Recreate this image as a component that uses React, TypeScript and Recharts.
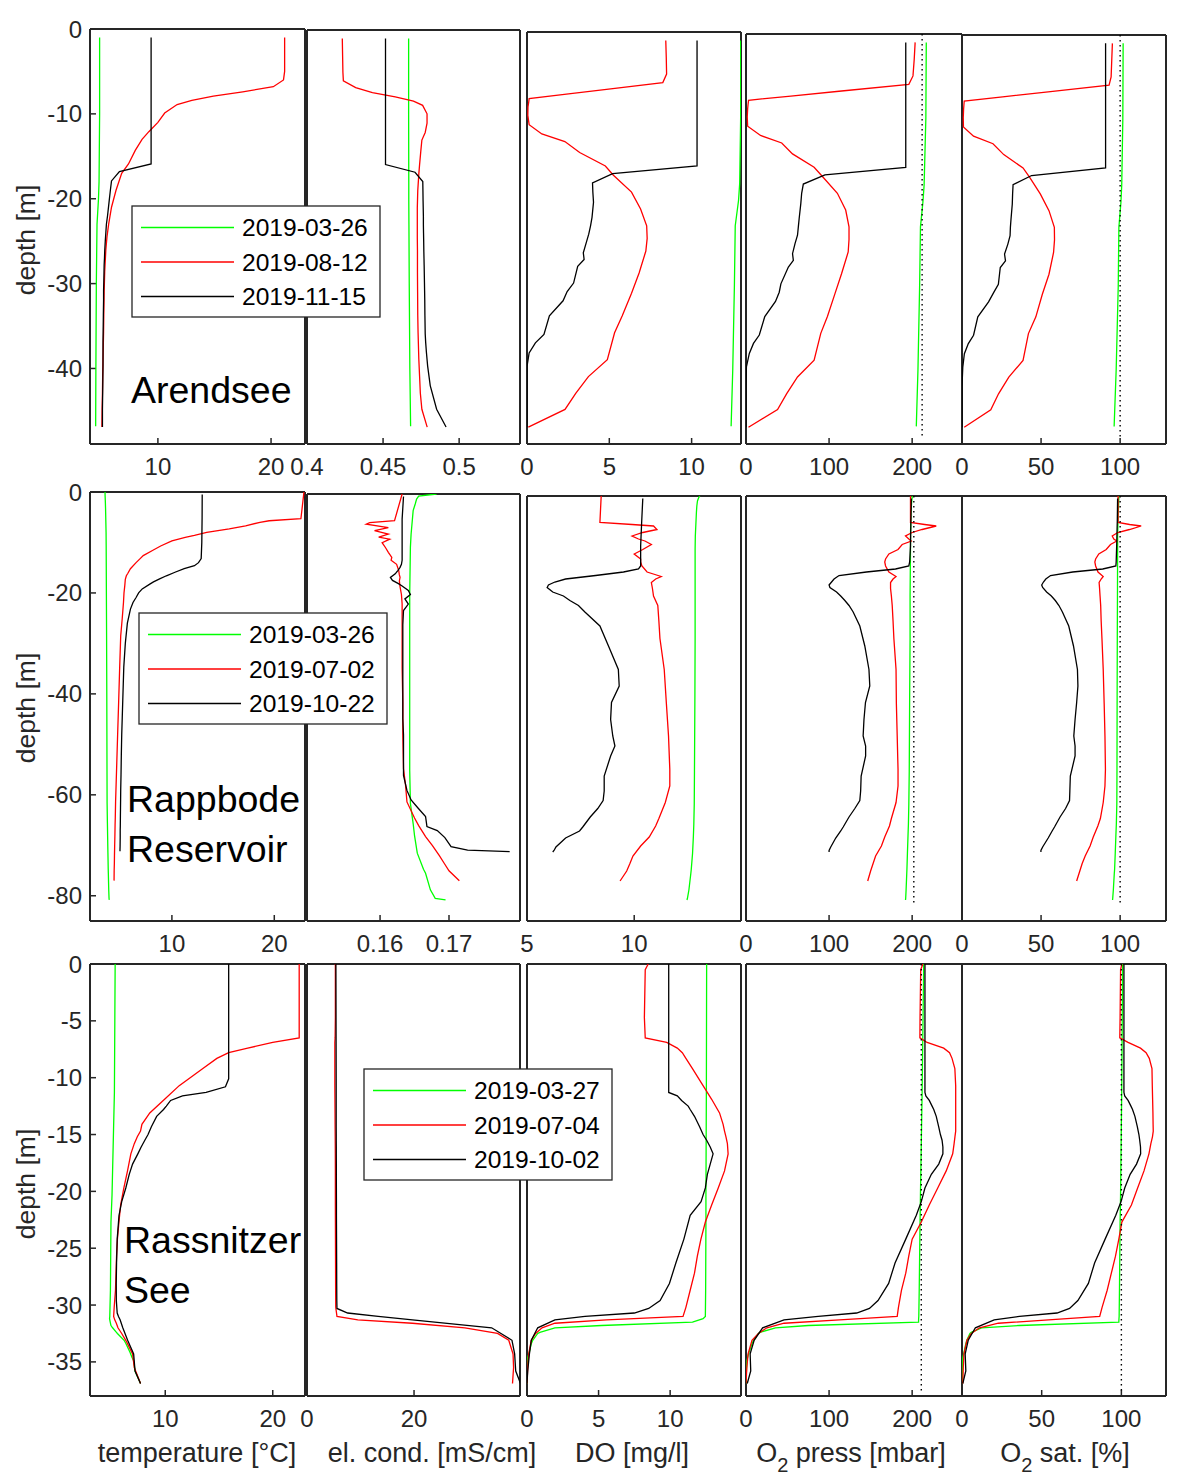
import React from 'react';
import { ScatterChart, Scatter, XAxis, YAxis } from 'recharts';

const FONT = '"Liberation Sans", Arial, Helvetica, sans-serif';
const INK = '#262626';
const DATE_COLORS = ['#00ff00', '#ff0000', '#000000'];

// ---------- Arendsee ----------
const arendseeDates = ['2019-03-26', '2019-08-12', '2019-11-15'];

const aGreenDepth = [-1, -10, -18, -20, -23, -30, -40, -46.8];
const aGreenTemp = [4.85, 4.85, 4.8, 4.75, 4.62, 4.56, 4.52, 4.5];
const aGreenCond = [0.4668, 0.4668, 0.4669, 0.4669, 0.467, 0.4672, 0.4676, 0.4681];
const aGreenDO = [12.98, 12.98, 12.92, 12.85, 12.65, 12.6, 12.5, 12.4];
const aGreenPress = [217, 216.5, 214.4, 213, 210, 209, 207, 205];
const aGreenSat = [101.9, 101.7, 101, 100.5, 99.2, 98.8, 97.5, 96.2];

const aRedDepth = [-1, -3, -5, -6, -6.8, -7.4, -7.9, -8.4, -8.9, -9.9, -11, -12.1, -13, -14.3, -15.9, -17, -19, -21, -23, -24.5, -26, -28.6, -31, -33.7, -35.7, -38.9, -40.9, -42.9, -44.8, -46.9];
const aRedTemp = [21.2, 21.2, 21.2, 21.1, 20.2, 17.5, 14.9, 13.0, 11.7, 10.6, 10.0, 9.2, 8.6, 8.0, 7.4, 6.8, 6.3, 5.9, 5.65, 5.5, 5.4, 5.3, 5.25, 5.22, 5.2, 5.15, 5.12, 5.1, 5.07, 5.05];
const aRedCond = [0.4232, 0.4234, 0.4236, 0.4239, 0.432, 0.443, 0.458, 0.47, 0.476, 0.4789, 0.4789, 0.4777, 0.4755, 0.4748, 0.474, 0.4735, 0.4728, 0.4725, 0.4725, 0.4725, 0.4726, 0.4726, 0.4727, 0.4728, 0.473, 0.4735, 0.474, 0.4745, 0.4755, 0.479];
const aRedDO = [8.43, 8.46, 8.48, 8.25, 4.83, 2.27, 0.13, 0.1, 0.06, 0.05, 0.13, 0.9, 2.3, 3.2, 4.76, 5.25, 6.35, 6.9, 7.27, 7.3, 7.22, 6.81, 6.35, 5.78, 5.32, 4.88, 3.73, 2.96, 2.31, 0.08];
const aRedPress = [203.6, 202.5, 201, 196, 115, 54, 3.1, 2.5, 2, 1.5, 2, 17.5, 43, 56, 82, 92, 110, 120, 124, 124, 123, 115, 107, 98, 90, 82, 62, 49, 38, 3];
const aRedSat = [95.1, 94.7, 94.3, 93, 54.5, 25.7, 1.4, 1.2, 1, 0.8, 0.9, 7.3, 19.6, 26.4, 38.6, 42.7, 49.5, 55, 58.4, 58.5, 57.9, 55, 50.8, 46.7, 42, 38.6, 29.6, 23.1, 18.2, 1.4];

const aBlackDepth = [-1, -5, -10, -15, -15.9, -16.8, -17.9, -19, -20.2, -22, -23, -24, -25, -26.2, -27, -27.8, -29.8, -30.8, -31.9, -33.7, -35.9, -36.9, -38.1, -39.7, -42, -44.8, -46.9];
const aBlackTemp = [9.4, 9.4, 9.4, 9.4, 9.4, 6.6, 5.9, 5.8, 5.7, 5.55, 5.45, 5.4, 5.35, 5.3, 5.28, 5.25, 5.22, 5.2, 5.2, 5.18, 5.16, 5.15, 5.15, 5.15, 5.13, 5.1, 5.1];
const aBlackCond = [0.4516, 0.4516, 0.4516, 0.4516, 0.4516, 0.471, 0.4761, 0.4762, 0.4763, 0.4765, 0.4765, 0.4766, 0.4767, 0.4768, 0.4769, 0.477, 0.4772, 0.4773, 0.4774, 0.4775, 0.4777, 0.478, 0.4785, 0.4793, 0.481, 0.4852, 0.4914];
const aBlackDO = [10.33, 10.33, 10.33, 10.33, 10.33, 5.2, 3.98, 4.0, 4.04, 3.95, 3.86, 3.75, 3.6, 3.42, 3.47, 3.08, 2.83, 2.44, 2.19, 1.36, 1.03, 0.51, 0.13, 0, 0, 0, 0];
const aBlackPress = [192.3, 192.3, 192.3, 192.3, 192.3, 95, 69, 67, 66, 64, 63, 62, 59, 56, 57, 51, 42, 40, 35.5, 22.6, 16, 9, 4, 0.5, 0, 0, 0];
const aBlackSat = [90.8, 90.8, 90.8, 90.8, 90.8, 44, 32.3, 32, 31.8, 31, 30.6, 30.4, 29, 26.9, 27.5, 24.2, 23, 20, 16.8, 10, 7.3, 4, 1.5, 0.5, 0, 0, 0];

// ---------- Rappbode Reservoir ----------
const rappbodeDates = ['2019-03-26', '2019-07-02', '2019-10-22'];

const rGreenDepth = [0, -0.4, -1, -2, -3.3, -8, -10.6, -20, -28.5, -40, -55, -61.6, -65.6, -68, -71.5, -74.7, -75.5, -78.8, -80.5, -80.8];
const rGreenTemp = [3.47, 3.47, 3.48, 3.5, 3.52, 3.57, 3.58, 3.6, 3.62, 3.64, 3.66, 3.67, 3.7, 3.72, 3.75, 3.78, 3.79, 3.83, 3.86, 3.88];
const rGreenCond = [0.1682, 0.1656, 0.1653, 0.1651, 0.1648, 0.1645, 0.1644, 0.1643, 0.1643, 0.1643, 0.1643, 0.1644, 0.1648, 0.165, 0.1654, 0.1663, 0.1666, 0.1673, 0.168, 0.1695];
const rGreenDO = [13.06, 13.0, 12.95, 12.92, 12.9, 12.85, 12.84, 12.84, 12.84, 12.83, 12.81, 12.8, 12.78, 12.76, 12.72, 12.66, 12.64, 12.55, 12.48, 12.46];
const rGreenPress = [200, 200, 199.5, 199, 198.5, 198, 198, 197.5, 197.5, 197, 196.5, 196, 195.5, 195, 194.3, 193.7, 193.5, 192.7, 192.2, 192];
const rGreenSat = [99.2, 99.2, 99.1, 99, 98.8, 98.4, 98.4, 98.3, 98.2, 98.1, 98.0, 97.9, 97.6, 97.3, 96.9, 96.5, 96.3, 95.7, 95.3, 95.2];

const rRedDepth = [0, -5.3, -5.7, -6, -6.7, -7.3, -8, -8.6, -9, -9.7, -10.7, -11.6, -12.6, -13.2, -14, -15.2, -16.1, -16.6, -17.3, -18.5, -20, -21.9, -25, -28.5, -34.7, -41.5, -48, -54.7, -58, -61.3, -64.5, -66, -68.2, -70, -72, -73.5, -75, -77];
const rRedTemp = [22.9, 22.6, 19.5, 18.6, 17.2, 15.6, 13.4, 12.2, 11.3, 10.0, 8.9, 8.1, 7.2, 6.9, 6.5, 5.95, 5.7, 5.55, 5.45, 5.4, 5.32, 5.27, 5.15, 5.0, 4.9, 4.8, 4.7, 4.6, 4.55, 4.5, 4.47, 4.45, 4.43, 4.41, 4.39, 4.38, 4.36, 4.35];
const rRedCond = [0.1632, 0.1621, 0.1585, 0.158, 0.1612, 0.1592, 0.1612, 0.1598, 0.1614, 0.1603, 0.1608, 0.1612, 0.1617, 0.1616, 0.1624, 0.1627, 0.1628, 0.1629, 0.1628, 0.1629, 0.1631, 0.1632, 0.1632, 0.1632, 0.1632, 0.1633, 0.1633, 0.1634, 0.1637, 0.1639, 0.165, 0.1656, 0.1666, 0.1676, 0.1686, 0.1693, 0.17, 0.1715];
const rRedDO = [8.46, 8.4, 9.9, 10.9, 11.06, 10.4, 9.9, 10.2, 10.5, 10.8, 10.4, 10.0, 10.3, 10.3, 10.36, 10.6, 11.26, 11.0, 10.8, 10.85, 10.9, 11.1, 11.15, 11.2, 11.4, 11.5, 11.6, 11.66, 11.66, 11.45, 11.15, 11.0, 10.7, 10.3, 9.94, 9.8, 9.65, 9.34];
const rRedPress = [198, 198, 215, 229, 212, 200, 192, 196, 199, 188, 183, 172, 168, 167, 168, 172, 180.6, 177, 174, 174, 175, 176, 177, 178, 180.6, 181, 182, 183, 183, 180.6, 175, 172.7, 167, 163, 156, 153, 150, 146.5];
const rRedSat = [98.7, 98.7, 106, 113.3, 105.9, 98.5, 95, 96, 97.9, 93.9, 91.2, 86.5, 84.5, 84, 84.5, 86, 89.3, 88, 86.7, 87, 87.3, 87.7, 88, 88.5, 89.3, 89.9, 90.4, 90.7, 90.4, 89.3, 87.5, 85.9, 83, 81, 77.9, 76, 74.5, 72.5];

const rBlackDepth = [-0.5, -5, -10, -13.2, -14, -14.6, -15.2, -15.9, -16.6, -17.2, -17.8, -18.3, -19.2, -20, -20.9, -21.9, -23.2, -26, -30, -34.7, -38, -41.3, -44.7, -48, -50, -52, -56, -59, -60.9, -62.5, -64.2, -66.2, -67, -68.4, -70.2, -70.9, -71.2];
const rBlackTemp = [12.96, 12.95, 12.92, 12.86, 12.6, 12.2, 11.2, 10.3, 9.46, 8.8, 8.2, 7.8, 7.1, 6.75, 6.5, 6.2, 5.95, 5.65, 5.45, 5.3, 5.25, 5.2, 5.15, 5.1, 5.08, 5.06, 5.03, 5.0, 4.99, 4.98, 4.97, 4.96, 4.95, 4.95, 4.94, 4.93, 4.93];
const rBlackCond = [0.1634, 0.1632, 0.1632, 0.1632, 0.1631, 0.1629, 0.1626, 0.1622, 0.1615, 0.1618, 0.1626, 0.1632, 0.1641, 0.1644, 0.1636, 0.1641, 0.1634, 0.1633, 0.1633, 0.1633, 0.1633, 0.1633, 0.1633, 0.1634, 0.1634, 0.1634, 0.1634, 0.1639, 0.1645, 0.1655, 0.1666, 0.1668, 0.1683, 0.1694, 0.1703, 0.1727, 0.1788];
const rBlackDO = [10.4, 10.35, 10.3, 10.3, 10.3, 10.2, 9.5, 8.2, 6.8, 6.3, 6.0, 5.94, 6.2, 6.7, 7.0, 7.4, 7.7, 8.4, 8.8, 9.26, 9.3, 8.94, 8.9, 9.0, 9.1, 8.9, 8.6, 8.6, 8.55, 8.3, 7.95, 7.6, 7.45, 6.8, 6.35, 6.26, 6.2];
const rBlackPress = [199, 198.5, 198, 197, 196, 180, 145, 112, 106, 103, 100, 101, 109, 114, 119, 124, 129, 137, 143, 148, 149, 143.8, 142, 141, 144, 144, 138.6, 138, 137, 131, 124, 117, 114, 108, 102, 100, 100];
const rBlackSat = [98.4, 98.2, 97.8, 97.5, 97.3, 89, 70, 56, 53, 51.5, 50.4, 51, 53.5, 56.5, 59, 61.3, 63.5, 67.5, 70.5, 73, 73.3, 72.5, 71.5, 70.7, 71.5, 71.5, 68.5, 68.2, 68, 65.5, 62, 58.5, 57, 54.5, 51, 49.9, 49.9];

// ---------- Rassnitzer See ----------
const rassnitzDates = ['2019-03-27', '2019-07-04', '2019-10-02'];

const sGreenDepth = [0, -11.3, -20.3, -22.7, -28.7, -31, -31.2, -31.5, -31.8, -32, -32.4, -32.5, -33.1, -33.4, -34.2, -34.6, -34.9, -35.8, -36.9];
const sGreenTemp = [5.34, 5.27, 5.05, 4.95, 4.9, 4.84, 4.82, 4.88, 4.95, 5.1, 5.46, 5.55, 6.17, 6.35, 6.74, 6.9, 7.06, 7.19, 7.7];
const sGreenDO = [12.55, 12.53, 12.5, 12.5, 12.48, 12.46, 12.3, 11.56, 5.2, 1.95, 0.9, 0.75, 0.4, 0.3, 0.15, 0.05, 0, 0, 0];
const sGreenPress = [213.9, 212, 210, 209.5, 208.5, 208, 207.8, 207.7, 75, 35.5, 17, 14.9, 9, 7.2, 3.5, 2, 1, 0.5, 0];
const sGreenSat = [100.8, 100.2, 99.5, 99.2, 98.8, 98.6, 98.5, 98.4, 36, 12.3, 5.8, 5, 3, 2.4, 1.2, 0.5, 0.3, 0.2, 0];

const sRedDepth = [0, -0.5, -4.7, -6.5, -6.9, -7.4, -7.8, -8.3, -9.2, -10.7, -11.9, -13.1, -14.1, -14.7, -15.2, -15.8, -16.7, -18.2, -19.7, -21.2, -22.7, -24.2, -25.7, -27.2, -28.7, -30.2, -31, -31.3, -31.6, -32, -32.5, -33.1, -34.3, -35.5, -36.9];
const sRedTemp = [22.46, 22.46, 22.46, 22.46, 20.0, 17.67, 15.9, 14.8, 13.5, 11.3, 9.94, 8.56, 7.83, 7.7, 7.4, 7.12, 6.8, 6.49, 6.15, 5.85, 5.69, 5.55, 5.47, 5.42, 5.37, 5.25, 5.2, 5.3, 5.45, 5.6, 5.95, 6.33, 6.96, 7.12, 7.7];
const sRedCond = [5.3, 5.3, 5.3, 5.25, 5.2, 5.2, 5.2, 5.2, 5.2, 5.2, 5.22, 5.24, 5.25, 5.26, 5.27, 5.28, 5.29, 5.3, 5.3, 5.3, 5.31, 5.32, 5.33, 5.34, 5.35, 5.37, 5.6, 9.5, 19.7, 29.5, 35.6, 37.7, 38.5, 38.6, 38.4];
const sRedDO = [8.47, 8.26, 8.2, 8.26, 9.76, 10.5, 10.85, 11.1, 11.56, 12.3, 12.9, 13.45, 13.7, 13.8, 13.9, 14.0, 14.05, 13.8, 13.36, 12.9, 12.46, 12.15, 11.9, 11.7, 11.4, 11.1, 10.9, 5.55, 1.95, 1.05, 0.6, 0.3, 0.12, 0.05, 0];
const sRedPress = [212.9, 210.3, 209.5, 209.3, 218, 238, 245, 248, 251.4, 252.4, 252.4, 252.4, 252.4, 252.4, 251.5, 250.5, 248.8, 241, 230.8, 220.6, 211, 200, 195.9, 192.3, 187.1, 183.5, 182, 112.6, 45.8, 25.2, 14.9, 7.2, 2.5, 1, 0];
const sRedSat = [100.3, 99.5, 99.2, 99, 104.2, 112, 115.5, 117.5, 119.2, 119.4, 119.6, 119.8, 119.9, 120, 119.5, 118.5, 117.3, 114.2, 110.2, 106.3, 100.3, 98.4, 96.3, 93.7, 91.1, 87.9, 86.4, 54.3, 22.8, 11, 5.8, 3.1, 1.2, 0.8, 0.5];

const sBlackDepth = [0, -10.1, -10.8, -11.3, -11.6, -12, -12.5, -12.8, -13.4, -14.3, -15, -15.5, -16.1, -16.7, -17.6, -18.5, -19.7, -20.9, -22.1, -24.2, -26.3, -28.1, -29.6, -30.3, -30.7, -31, -31.3, -32, -33.1, -34.3, -35.8, -36.9];
const sBlackTemp = [15.9, 15.9, 15.6, 13.8, 11.6, 10.5, 10.1, 9.84, 9.2, 8.72, 8.4, 8.1, 7.76, 7.45, 6.96, 6.65, 6.33, 5.95, 5.7, 5.53, 5.47, 5.44, 5.45, 5.5, 5.53, 5.65, 5.8, 6.05, 6.5, 7.06, 7.19, 7.7];
const sBlackCond = [5.4, 5.45, 5.45, 5.45, 5.45, 5.45, 5.45, 5.45, 5.45, 5.45, 5.46, 5.46, 5.47, 5.47, 5.48, 5.48, 5.49, 5.5, 5.5, 5.52, 5.54, 5.55, 5.57, 5.6, 7.6, 13.3, 19.7, 34.5, 38.3, 38.8, 39.0, 39.9];
const sBlackDO = [9.9, 9.9, 9.9, 9.9, 10.5, 10.8, 11.26, 11.4, 11.7, 12.05, 12.3, 12.55, 12.8, 13.0, 12.8, 12.6, 12.46, 12.16, 11.4, 10.96, 10.4, 9.95, 9.3, 8.5, 7.5, 4.05, 1.95, 0.75, 0.3, 0.17, 0.05, 0];
const sBlackPress = [215.4, 215.4, 215.4, 215.4, 216.5, 220.6, 224, 226, 229, 231.9, 234, 236, 237, 237, 232, 223.1, 215.4, 211, 205, 192.3, 179.4, 171.7, 158.9, 148.6, 133.2, 86.9, 45.8, 20, 9.8, 5, 5.7, 1.5];
const sBlackSat = [101.6, 101.6, 101.6, 101.6, 102.1, 104.2, 106, 107, 108.5, 110, 111, 111.5, 112, 112.1, 109.5, 105.5, 102.1, 99.8, 96.5, 89.8, 83.2, 79.3, 72.7, 67.5, 59.6, 36, 20.2, 8.4, 3.9, 2, 2.4, 0.5];

// reference (saturation) lines, dotted
const refPressure = [212, 202, 211];
const refSaturation = [100, 100, 100];
const refDepthBottom = [-48, -82, -37.6];

// ticks
const depthTicksA = [-40, -30, -20, -10, 0];
const depthTicksR = [-80, -60, -40, -20, 0];
const depthTicksS = [-35, -30, -25, -20, -15, -10, -5, 0];
const tempTicks = [10, 20];
const condTicksA = [0.4, 0.45, 0.5];
const condTicksR = [0.16, 0.17];
const condTicksS = [0, 20];
const doTicksA = [0, 5, 10];
const doTicksR = [5, 10];
const pressTicks = [0, 100, 200];
const satTicks = [0, 50, 100];

const lakeNames = [['Arendsee'], ['Rappbode', 'Reservoir'], ['Rassnitzer', 'See']];
const axisTitles = ['temperature [°C]', 'el. cond. [mS/cm]', 'DO [mg/l]', 'press [mbar]', 'sat. [%]'];

type Profile = { depth: number[]; vals: (number[] | null)[] };

const arendsee: Profile[] = [
  { depth: aGreenDepth, vals: [aGreenTemp, aGreenCond, aGreenDO, aGreenPress, aGreenSat] },
  { depth: aRedDepth, vals: [aRedTemp, aRedCond, aRedDO, aRedPress, aRedSat] },
  { depth: aBlackDepth, vals: [aBlackTemp, aBlackCond, aBlackDO, aBlackPress, aBlackSat] },
];
const rappbode: Profile[] = [
  { depth: rGreenDepth, vals: [rGreenTemp, rGreenCond, rGreenDO, rGreenPress, rGreenSat] },
  { depth: rRedDepth, vals: [rRedTemp, rRedCond, rRedDO, rRedPress, rRedSat] },
  { depth: rBlackDepth, vals: [rBlackTemp, rBlackCond, rBlackDO, rBlackPress, rBlackSat] },
];
const rassnitz: Profile[] = [
  { depth: sGreenDepth, vals: [sGreenTemp, null, sGreenDO, sGreenPress, sGreenSat] },
  { depth: sRedDepth, vals: [sRedTemp, sRedCond, sRedDO, sRedPress, sRedSat] },
  { depth: sBlackDepth, vals: [sBlackTemp, sBlackCond, sBlackDO, sBlackPress, sBlackSat] },
];

// layout
const colLeft = [90, 307, 527, 746, 962];
const colRight = [305, 520, 741, 962, 1166];

const rows = [
  {
    tops: [29, 30, 32, 34, 35], bottom: 444, depthRange: [-48.9, 0], depthTicks: depthTicksA,
    xRanges: [[4, 23], [0.4, 0.54], [0, 13], [0, 260], [0, 129]],
    xTicks: [tempTicks, condTicksA, doTicksA, pressTicks, satTicks],
    profiles: arendsee, dates: arendseeDates,
    legend: [132, 206], nameAt: [131, 403], titleY: 240,
  },
  {
    tops: [492, 494, 496, 496, 496], bottom: 921, depthRange: [-85, 0], depthTicks: depthTicksR,
    xRanges: [[2, 23], [0.1494, 0.1803], [5, 14.98], [0, 260], [0, 129]],
    xTicks: [tempTicks, condTicksR, doTicksR, pressTicks, satTicks],
    profiles: rappbode, dates: rappbodeDates,
    legend: [139, 613], nameAt: [127, 812], titleY: 708,
  },
  {
    tops: [964, 964, 964, 964, 964], bottom: 1396, depthRange: [-38, 0], depthTicks: depthTicksS,
    xRanges: [[3, 23], [0, 39.8], [0, 14.95], [0, 260], [0, 128]],
    xTicks: [tempTicks, condTicksS, doTicksA, pressTicks, satTicks],
    profiles: rassnitz, dates: rassnitzDates,
    legend: [364, 1069], nameAt: [124, 1253], titleY: 1184,
  },
];

type Pt = { x: number; y: number };
const toPts = (depth: number[], vals: number[]): Pt[] => depth.map((d, i) => ({ x: vals[i], y: d }));

const noDot = () => <g />;
const tickStyle = { fill: INK, fontSize: 24, fontFamily: FONT };

function Panel({ r, c }: { r: number; c: number }) {
  const row = rows[r];
  const left = colLeft[c];
  const right = colRight[c];
  const top = row.tops[c];
  const bottom = row.bottom;
  // axes take 1px each (a zero-size axis is not drawn)
  const ml = 69, mr = 25, mt = 15, mb = 51;
  const xDomain = row.xRanges[c];
  const series = row.profiles
    .map((p, i) => ({ vals: p.vals[c], depth: p.depth, color: DATE_COLORS[i] }))
    .filter((s) => s.vals);
  let ref: Pt[] | null = null;
  if (c === 3) ref = [{ x: refPressure[r], y: 0 }, { x: refPressure[r], y: refDepthBottom[r] }];
  if (c === 4) ref = [{ x: refSaturation[r], y: 0 }, { x: refSaturation[r], y: refDepthBottom[r] }];
  const axisLine = { stroke: INK, strokeWidth: 2 };
  const tickLine = { stroke: INK, strokeWidth: 1.5 };
  return (
    <div style={{ position: 'absolute', left: left - ml - 1, top: top - mt - 1 }}>
      <ScatterChart
        width={right - left + ml + mr + 2}
        height={bottom - top + mt + mb + 2}
        margin={{ top: mt, right: mr, bottom: mb, left: ml }}
      >
        <XAxis xAxisId="b" type="number" dataKey="x" domain={xDomain} ticks={row.xTicks[c]} interval={0}
          allowDataOverflow height={1} tickSize={-6} tickMargin={20} axisLine={axisLine} tickLine={tickLine} tick={tickStyle} />
        <XAxis xAxisId="t" orientation="top" type="number" dataKey="x" domain={xDomain} ticks={row.xTicks[c]} interval={0}
          allowDataOverflow height={1} tickSize={-6} axisLine={axisLine} tickLine={tickLine} tick={false} />
        <YAxis yAxisId="l" type="number" dataKey="y" domain={row.depthRange} ticks={row.depthTicks} interval={0}
          allowDataOverflow width={1} tickSize={-6} tickMargin={14} axisLine={axisLine} tickLine={tickLine}
          tick={c === 0 ? tickStyle : false} />
        <YAxis yAxisId="r" orientation="right" type="number" dataKey="y" domain={row.depthRange} ticks={row.depthTicks} interval={0}
          allowDataOverflow width={1} tickSize={-6} axisLine={axisLine} tickLine={tickLine} tick={false} />
        {series.map((s, i) => (
          <Scatter key={i} xAxisId="b" yAxisId="l" data={toPts(s.depth, s.vals as number[])}
            line={{ stroke: s.color, strokeWidth: 1.3 }} lineType="joint" shape={noDot} isAnimationActive={false} />
        ))}
        {ref && (
          <Scatter xAxisId="b" yAxisId="l" data={ref}
            line={{ stroke: '#000', strokeWidth: 1.4, strokeDasharray: '1.5 3.5' }} lineType="joint" shape={noDot} isAnimationActive={false} />
        )}
      </ScatterChart>
    </div>
  );
}

function Legend({ x, y, dates }: { x: number; y: number; dates: string[] }) {
  return (
    <g>
      <rect x={x} y={y} width={248} height={111} fill="#fff" stroke={INK} strokeWidth={1.3} />
      {dates.map((d, i) => {
        const cy = y + 21.5 + i * 34.5;
        return (
          <g key={d}>
            <line x1={x + 9} x2={x + 102} y1={cy} y2={cy} stroke={DATE_COLORS[i]} strokeWidth={1.3} />
            <text x={x + 110} y={cy + 8.7} fontSize={24.6} fill="#000">{d}</text>
          </g>
        );
      })}
    </g>
  );
}

const titleCenters = [197, 432, 632, 851, 1065];

export default function App() {
  return (
    <div style={{ position: 'absolute', left: 0, top: 0, width: 1186, height: 1484, background: '#fff', fontFamily: FONT }}>
      {rows.map((_, r) => [0, 1, 2, 3, 4].map((c) => <Panel key={`${r}-${c}`} r={r} c={c} />))}
      <svg width={1186} height={1484} style={{ position: 'absolute', left: 0, top: 0, pointerEvents: 'none' }} fontFamily={FONT}>
        {rows.map((row, r) => (
          <g key={r}>
            <Legend x={row.legend[0]} y={row.legend[1]} dates={row.dates} />
            {lakeNames[r].map((n, i) => (
              <text key={n} x={row.nameAt[0]} y={row.nameAt[1] + i * 50} fontSize={37.5} fill="#000">{n}</text>
            ))}
            <text transform={`translate(35, ${row.titleY}) rotate(-90)`} textAnchor="middle" fontSize={26.5} fill={INK}>depth [m]</text>
          </g>
        ))}
        {axisTitles.map((t, i) => (
          <text key={t} x={titleCenters[i]} y={1462} textAnchor="middle" fontSize={27} fill={INK}>
            {i >= 3 ? (
              <>
                <tspan>O</tspan>
                <tspan fontSize={20} dy={10}>2</tspan>
                <tspan dy={-10}>{' ' + t}</tspan>
              </>
            ) : t}
          </text>
        ))}
      </svg>
    </div>
  );
}
